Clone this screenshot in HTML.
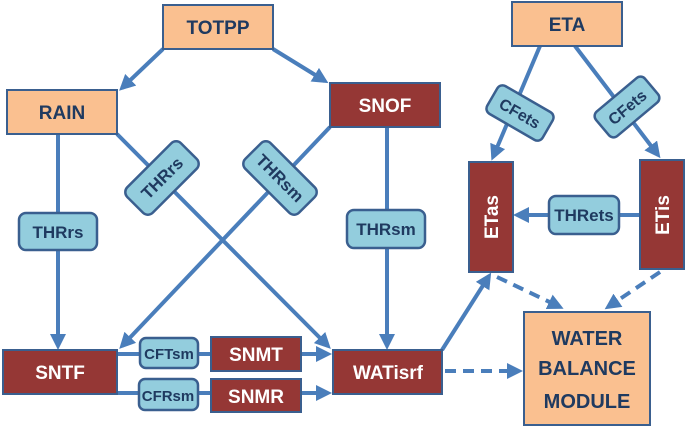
<!DOCTYPE html>
<html><head><style>
body{margin:0;width:688px;height:430px;background:#fff;overflow:hidden}
svg text{font-family:"Liberation Sans",sans-serif;font-weight:bold}
</style></head><body>
<svg width="688" height="430" viewBox="0 0 688 430" xmlns="http://www.w3.org/2000/svg">
<defs>
<marker id="a" markerWidth="4" markerHeight="4" refX="3" refY="2" orient="auto" markerUnits="strokeWidth">
<path d="M0,0 L4,2 L0,4 z" fill="#4a7ebb"/></marker>
</defs>
<g stroke="#4a7ebb" stroke-width="4" fill="none">
<line x1="163" y1="49" x2="122" y2="88" marker-end="url(#a)"/>
<line x1="273" y1="49" x2="325" y2="81" marker-end="url(#a)"/>
<line x1="58" y1="134" x2="58" y2="346" marker-end="url(#a)"/>
<line x1="117" y1="134" x2="328" y2="346" marker-end="url(#a)"/>
<line x1="330" y1="127" x2="122" y2="346" marker-end="url(#a)"/>
<line x1="387" y1="127" x2="387" y2="346" marker-end="url(#a)"/>
<line x1="117" y1="354" x2="328" y2="354" marker-end="url(#a)"/>
<line x1="117" y1="393" x2="328" y2="393" marker-end="url(#a)"/>
<line x1="442" y1="350" x2="489" y2="276" marker-end="url(#a)"/>
<line x1="540" y1="46" x2="493" y2="157" marker-end="url(#a)"/>
<line x1="575" y1="46" x2="658" y2="155" marker-end="url(#a)"/>
<line x1="640" y1="215" x2="517" y2="215" marker-end="url(#a)"/>
<g stroke-dasharray="11,7">
<line x1="445" y1="371" x2="519" y2="371" marker-end="url(#a)"/>
<line x1="497" y1="277" x2="560" y2="307" marker-end="url(#a)"/>
<line x1="660" y1="272" x2="608" y2="307" marker-end="url(#a)"/>
</g>
</g>
<g stroke="#3a5f8f" stroke-width="2">
<rect x="163" y="5" width="110" height="44" fill="#fac090"/>
<rect x="7" y="90" width="110" height="44" fill="#fac090"/>
<rect x="330" y="83" width="110" height="44" fill="#953735"/>
<rect x="512" y="2" width="110" height="44" fill="#fac090"/>
<rect x="3" y="350" width="114" height="44" fill="#953735"/>
<rect x="333" y="350" width="109" height="44" fill="#953735"/>
<rect x="211" y="337" width="90" height="34" fill="#953735"/>
<rect x="211" y="379" width="90" height="33" fill="#953735"/>
<rect x="524" y="312" width="126" height="113" fill="#fac090"/>
<rect x="469" y="162" width="44" height="110" fill="#953735"/>
<rect x="640" y="160" width="44" height="109" fill="#953735"/>
<g fill="#93cddd" stroke-width="2.5">
<rect x="19" y="213" width="78" height="37" rx="7"/>
<rect x="347" y="210" width="78" height="38" rx="7"/>
<rect x="140" y="338" width="58" height="30" rx="6"/>
<rect x="139" y="379" width="59" height="31" rx="6"/>
<rect x="549" y="196" width="70" height="38" rx="7"/>
<rect x="-38" y="-18" width="76" height="36" rx="7" transform="translate(162,178) rotate(-45)"/>
<rect x="-38" y="-18" width="76" height="36" rx="7" transform="translate(280,178) rotate(45)"/>
<rect x="-32" y="-16" width="64" height="32" rx="6" transform="translate(520,113) rotate(30)"/>
<rect x="-32" y="-16" width="64" height="32" rx="6" transform="translate(627,107) rotate(-40)"/>
</g>
</g>
<g font-size="19" text-anchor="middle" fill="#1f3a60">
<text x="218" y="34">TOTPP</text>
<text x="62" y="119">RAIN</text>
<text x="567" y="31">ETA</text>
<text x="587" y="345" font-size="20">WATER</text>
<text x="587" y="375" font-size="20">BALANCE</text>
<text x="587" y="408" font-size="20">MODULE</text>
</g>
<g font-size="19" text-anchor="middle" fill="#fff">
<text x="385" y="112">SNOF</text>
<text x="60" y="379">SNTF</text>
<text x="388" y="379">WATisrf</text>
<text x="256" y="361">SNMT</text>
<text x="256" y="403">SNMR</text>
<text transform="translate(498,217) rotate(-90)">ETas</text>
<text transform="translate(669,215) rotate(-90)">ETis</text>
</g>
<g font-size="17" text-anchor="middle" fill="#1f3a60">
<text x="58" y="238">THRrs</text>
<text x="386" y="235">THRsm</text>
<text x="584" y="221">THRets</text>
<text x="169" y="359" font-size="15">CFTsm</text>
<text x="168" y="401" font-size="15">CFRsm</text>
<text transform="translate(162,178) rotate(-45)" y="6">THRrs</text>
<text transform="translate(280,178) rotate(45)" y="6">THRsm</text>
<text transform="translate(520,113) rotate(30)" y="6" font-size="16">CFets</text>
<text transform="translate(627,107) rotate(-40)" y="6" font-size="16">CFets</text>
</g>
</svg>
</body></html>
